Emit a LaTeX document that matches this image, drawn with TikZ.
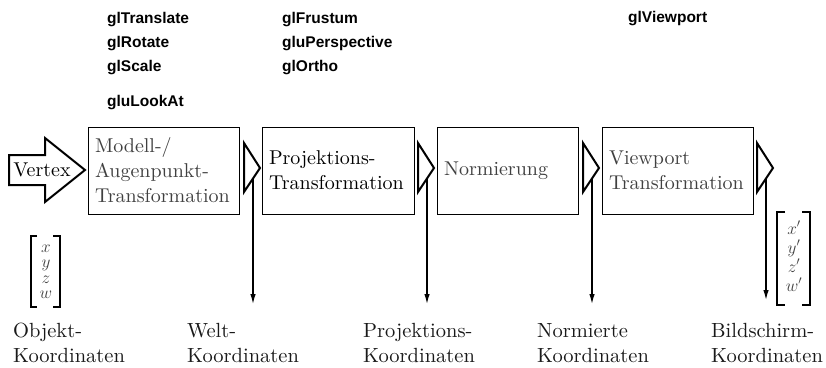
\documentclass[tikz,border=0pt]{standalone}
\usepackage{fontspec}
\newfontfamily\hvfont{Liberation Sans}
\newfontfamily\cmten{lmroman10-regular.otf}
\usetikzlibrary{arrows.meta}
\newcommand\sertxt{\cmten\fontsize{20}{25}\selectfont}
\newcommand\labtxt{\cmten\fontsize{20.5}{24.5}\selectfont}
\newcommand\gltxt{\hvfont\bfseries\fontsize{15.5}{18}\selectfont}
\begin{document}
\begin{tikzpicture}[x=1pt,y=-1pt,
  box/.style={draw=black,line width=0.8pt,minimum height=87pt,inner xsep=7pt,inner ysep=2pt,align=left,font=\sertxt},
  gl/.style={anchor=base west,inner sep=0pt,font=\gltxt},
  tri/.style={draw=black,line width=2pt,line join=miter,fill=white},
  down/.style={-{Latex[length=10pt,width=5.5pt]},line width=1.3pt},
  brk/.style={line width=2.2pt},
  vec/.style={anchor=base,inner sep=0pt,text=black!75},
  lab/.style={anchor=base west,inner sep=0pt,align=left,font=\labtxt,text=black!90}]
\useasboundingbox (0,0) rectangle (826,367);

% OpenGL function labels
\node[gl] (g1) at (107,23.5) {glTranslate};
\node[gl] (g2) at (107,47.5) {glRotate};
\node[gl] (g3) at (107,71.5) {glScale};
\node[gl] (g4) at (107,106.5) {gluLookAt};
\node[gl] (g5) at (282,23.5) {glFrustum};
\node[gl] (g6) at (282,47.5) {gluPerspective};
\node[gl] (g7) at (282,71.5) {glOrtho};
\node[gl] (g8) at (628,22) {glViewport};

% Vertex arrow
\draw[line width=2pt,line join=miter,fill=white]
  (9,155) -- (45,155) -- (45,138) -- (85,170) -- (45,202) -- (45,185) -- (9,185) -- cycle;
\node[inner sep=0pt,font=\sertxt] (vtx) at (42,170) {Vertex};

% Boxes
\node[box,text width=137pt,text=black!75] (b1) at (163.5,170.5) {Modell-/\\Augenpunkt-\\Transformation};
\node[box,text width=138pt] (b2) at (338,170.5) {Projektions-\\Transformation};
\node[box,text width=127pt,text=black!75] (b3) at (507.5,170.5) {Normierung};
\node[box,text width=137pt,text=black!75] (b4) at (677.5,170.5) {Viewport\\Transformation};

% Triangles and downward arrows
\foreach \L/\n/\e in {244/1/304,418/2/304,583/3/304,757/4/300}{
  \draw[tri] (\L,143) -- (\L+16,168) -- (\L,192) -- cycle;
  \coordinate (s\n) at (\L+9,178.5);
  \coordinate (e\n) at (\L+9,\e);
}
\foreach \n in {1,2,3,4}{
  \draw[down] (s\n) -- (e\n);
}

% Left vector
\draw[brk] (37,236) -- (31,236) -- (31,307) -- (37,307);
\draw[brk] (53,236) -- (60,236) -- (60,307) -- (53,307);
\node[vec,font=\fontsize{17}{17}\selectfont] (vx) at (46,252) {$x$};
\node[vec,font=\fontsize{17}{17}\selectfont] (vy) at (46,267.5) {$y$};
\node[vec,font=\fontsize{17}{17}\selectfont] (vz) at (46,283) {$z$};
\node[vec,font=\fontsize{17}{17}\selectfont] (vw) at (46,298) {$w$};

% Right vector
\draw[brk] (785,212) -- (777,212) -- (777,305) -- (785,305);
\draw[brk] (802,212) -- (810,212) -- (810,305) -- (802,305);
\node[vec,font=\fontsize{18.5}{18.5}\selectfont] (wx) at (794,234) {$x'$};
\node[vec,font=\fontsize{18.5}{18.5}\selectfont] (wy) at (794,253) {$y'$};
\node[vec,font=\fontsize{18.5}{18.5}\selectfont] (wz) at (794,272) {$z'$};
\node[vec,font=\fontsize{18.5}{18.5}\selectfont] (ww) at (794,291) {$w'$};

% Coordinate system labels
\node[lab] (l1) at (13,362) {Objekt-\\Koordinaten};
\node[lab] (l2) at (187,362) {Welt-\\Koordinaten};
\node[lab] (l3) at (363,362) {Projektions-\\Koordinaten};
\node[lab] (l4) at (537,362) {Normierte\\Koordinaten};
\node[lab] (l5) at (711,362) {Bildschirm-\\Koordinaten};
\end{tikzpicture}
\end{document}
